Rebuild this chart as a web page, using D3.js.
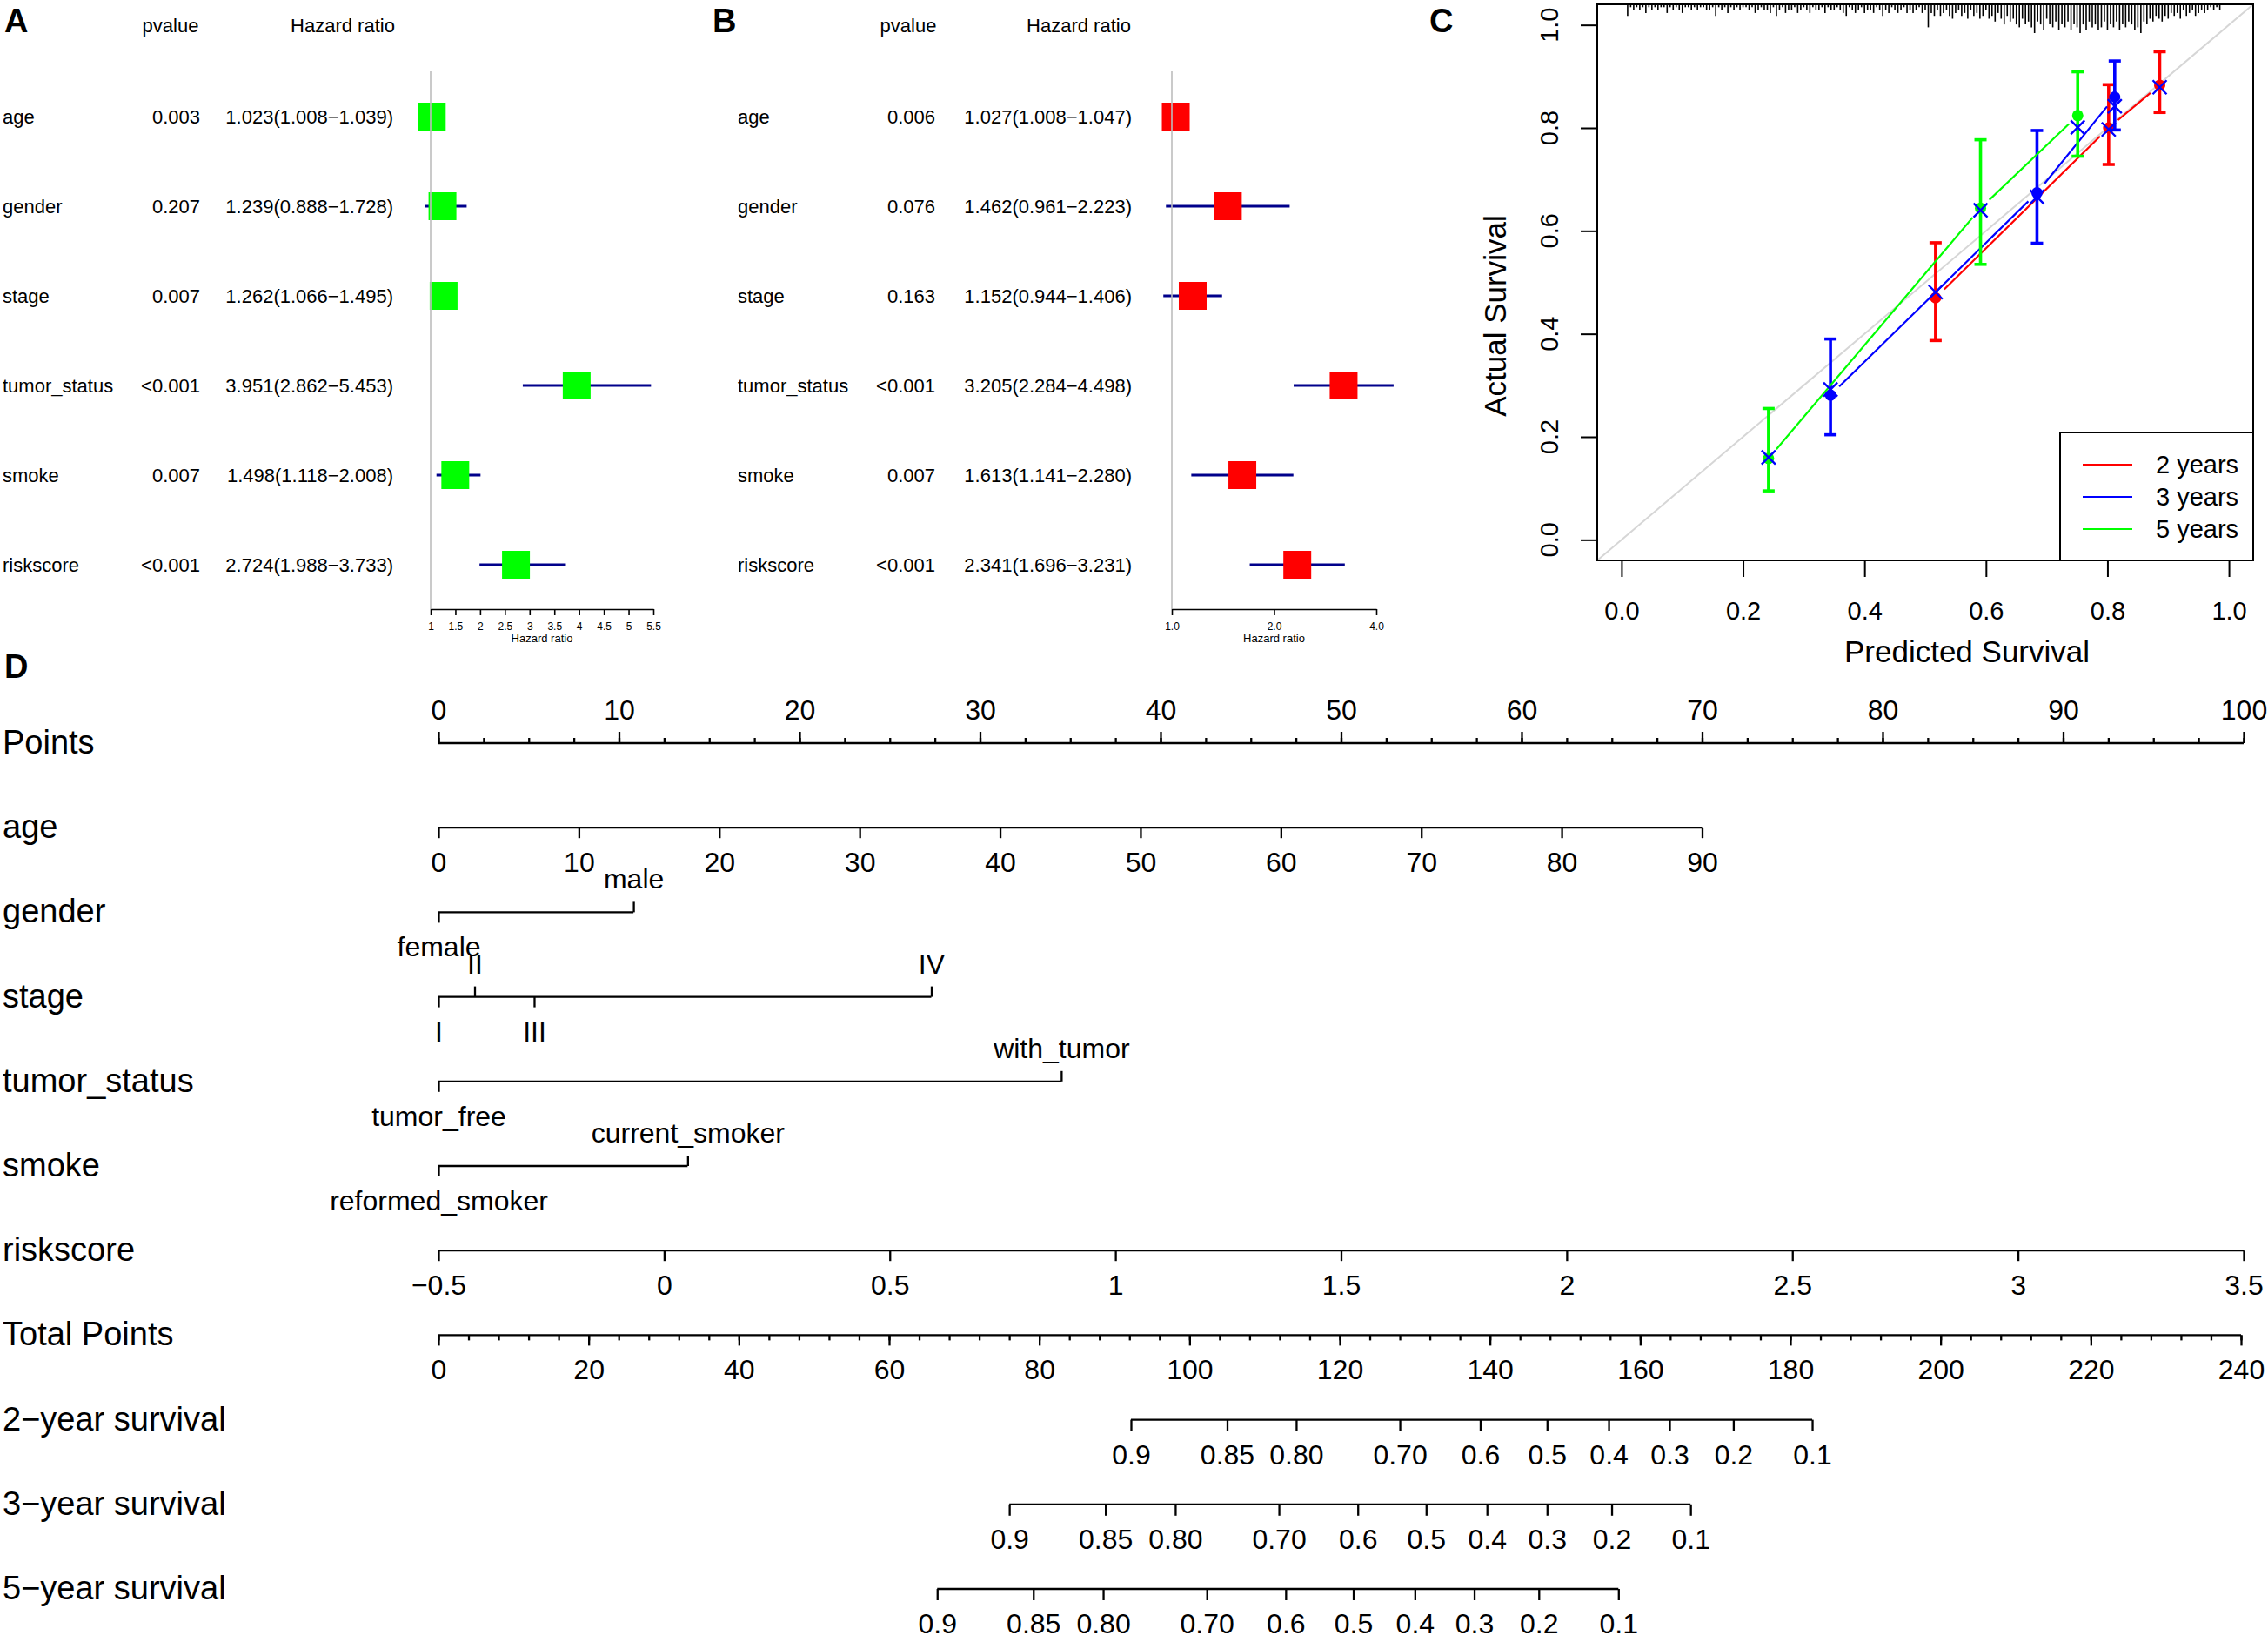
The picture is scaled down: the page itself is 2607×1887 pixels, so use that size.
<!DOCTYPE html>
<html lang="en">
<head>
<meta charset="UTF-8">
<title>Cox regression, calibration and nomogram</title>
<script src="https://d3js.org/d3.v7.min.js"></script>
<style>
  body { margin: 0; background: #fff; }
  svg { display: block; font-family: "Liberation Sans", Arial, Helvetica, sans-serif; }
</style>
</head>
<body>
<div id="chart"></div>
<script>
// ---------- data ----------
const coxVars = ["age", "gender", "stage", "tumor_status", "smoke", "riskscore"];

// panel A
const uniP = ["0.003", "0.207", "0.007", "<0.001", "0.007", "<0.001"];
const uniHR = [1.023, 1.239, 1.262, 3.951, 1.498, 2.724];
const uniLow = [1.008, 0.888, 1.066, 2.862, 1.118, 1.988];
const uniHigh = [1.039, 1.728, 1.495, 5.453, 2.008, 3.733];
const uniTicks = [1, 1.5, 2, 2.5, 3, 3.5, 4, 4.5, 5, 5.5];

// panel B
const multiP = ["0.006", "0.076", "0.163", "<0.001", "0.007", "<0.001"];
const multiHR = [1.027, 1.462, 1.152, 3.205, 1.613, 2.341];
const multiLow = [1.008, 0.961, 0.944, 2.284, 1.141, 1.696];
const multiHigh = [1.047, 2.223, 1.406, 4.498, 2.280, 3.231];
const multiTicks = [1, 2, 4];

// panel C
const calTicks = [0, 0.2, 0.4, 0.6, 0.8, 1.0];
const calSeries = ["2 years", "3 years", "5 years"];
const cal2Pred = [0.517, 0.802, 0.886];
const cal2Obs = [0.470, 0.800, 0.883];
const cal2Lo = [0.387, 0.729, 0.830];
const cal2Hi = [0.577, 0.884, 0.948];
const cal2Corr = [0.481, 0.797, 0.879];
const cal3Pred = [0.344, 0.684, 0.812];
const cal3Obs = [0.281, 0.674, 0.860];
const cal3Lo = [0.204, 0.576, 0.796];
const cal3Hi = [0.390, 0.795, 0.930];
const cal3Corr = [0.292, 0.666, 0.842];
const cal5Pred = [0.242, 0.591, 0.751];
const cal5Obs = [0.158, 0.644, 0.824];
const cal5Lo = [0.095, 0.535, 0.745];
const cal5Hi = [0.255, 0.777, 0.909];
const cal5Corr = [0.160, 0.640, 0.801];
// distribution of predicted survival (relative counts, bins of 0.005 from 0.010)
const rugStart = 0.010, rugStep = 0.005;
const rugCounts = [
  4,1,2,1,2,1,3,1,2,1, 2,1,1,3,1,2,1,2,3,1, 1,2,1,2,1,1,2,2,1,4, 1,2,1,3,1,2,1,2,1,1,
  2,1,3,2,1,2,2,3,1,4, 2,1,3,2,2,1,3,2,1,2, 3,1,2,2,1,3,1,2,2,1, 2,3,4,1,2,3,2,1,3,2,
  2,3,1,2,4,2,3,1,2,3, 2,1,3,2,3,2,1,3,2,8, 3,4,2,4,3,2,4,5,3,2, 4,3,5,2,4,3,5,4,2,5,
  4,6,3,5,7,4,6,5,7,8, 5,7,6,8,10,6,7,9,5,7, 8,6,9,7,8,6,9,7,8,10, 7,9,6,8,7,9,8,6,9,7,
  8,6,9,7,8,6,7,9,8,10, 6,7,5,6,4,5,6,4,5,3, 4,3,5,2,4,3,2,4,3,2, 3,2,1,2,1,2
];

// panel D
const nomoRows = ["Points", "age", "gender", "stage", "tumor_status", "smoke", "riskscore",
  "Total Points", "2\u2212year survival", "3\u2212year survival", "5\u2212year survival"];
const pointsTicks = [0, 10, 20, 30, 40, 50, 60, 70, 80, 90, 100];
const ageTicks = [0, 10, 20, 30, 40, 50, 60, 70, 80, 90];
const agePointsAtMax = 70;
const genderLevels = ["female", "male"];
const genderPoints = [0, 10.8];
const stageLevels = ["I", "II", "III", "IV"];
const stagePoints = [0, 2.0, 5.3, 27.3];
const tumorLevels = ["tumor_free", "with_tumor"];
const tumorPoints = [0, 34.5];
const smokeLevels = ["reformed_smoker", "current_smoker"];
const smokePoints = [0, 13.8];
const riskTicks = [-0.5, 0, 0.5, 1, 1.5, 2, 2.5, 3, 3.5];
const totalTicks = [0, 20, 40, 60, 80, 100, 120, 140, 160, 180, 200, 220, 240];
const survLabels = ["0.9", "0.85", "0.80", "0.70", "0.6", "0.5", "0.4", "0.3", "0.2", "0.1"];
const surv2Points = [92.2, 105.0, 114.2, 128.0, 138.7, 147.6, 155.8, 163.9, 172.4, 182.9];
const surv3Points = [76.0, 88.8, 98.1, 111.9, 122.4, 131.5, 139.6, 147.6, 156.2, 166.7];
const surv5Points = [66.4, 79.2, 88.5, 102.3, 112.8, 121.8, 130.0, 137.9, 146.5, 157.1];

// ---------- drawing ----------
const svg = d3.select("#chart").append("svg")
  .attr("width", 2607).attr("height", 1887);

function panelLetter(letter, x, y) {
  svg.append("text").attr("x", x).attr("y", y)
    .attr("font-size", 38).attr("font-weight", "bold").text(letter);
}

const fmt3 = d3.format(".3f");

function drawForest(o) {
  const g = svg.append("g");
  const y = d3.scalePoint().domain(coxVars).range([134, 649]);

  g.append("text").attr("x", o.pHead).attr("y", 37).attr("text-anchor", "middle")
    .attr("font-size", 22).text("pvalue");
  g.append("text").attr("x", o.hrHead).attr("y", 37).attr("text-anchor", "middle")
    .attr("font-size", 22).text("Hazard ratio");

  const rows = g.selectAll(".row").data(coxVars).enter().append("g")
    .attr("transform", d => `translate(0,${y(d)})`).attr("font-size", 22);
  rows.append("text").attr("x", o.labelX).attr("y", 8).text(d => d);
  rows.append("text").attr("x", o.pX).attr("y", 8).attr("text-anchor", "end")
    .text((d, i) => o.p[i]);
  rows.append("text").attr("x", o.hrX).attr("y", 8).attr("text-anchor", "end")
    .text((d, i) => `${fmt3(o.hr[i])}(${fmt3(o.low[i])}\u2212${fmt3(o.high[i])})`);

  const x = o.x;
  g.append("line").attr("x1", x(1)).attr("x2", x(1)).attr("y1", 82).attr("y2", 700)
    .attr("stroke", "#bdbdbd").attr("stroke-width", 1.6);

  rows.append("line")
    .attr("x1", (d, i) => x(o.low[i])).attr("x2", (d, i) => x(o.high[i]))
    .attr("stroke", "#00008b").attr("stroke-width", 3);
  rows.append("rect")
    .attr("x", (d, i) => x(o.hr[i]) - 16).attr("y", -16)
    .attr("width", 32).attr("height", 32).attr("fill", o.color);

  const ax = g.append("g").attr("transform", "translate(0,700)")
    .call(d3.axisBottom(x).tickValues(o.ticks).tickFormat(o.format).tickSize(7).tickSizeOuter(0));
  ax.attr("font-size", 12).attr("font-family", null);
  ax.select(".domain").attr("stroke-width", 1.6);
  ax.selectAll("line").attr("stroke-width", 1.6);
  ax.selectAll("text").attr("y", 24).attr("dy", null);
  g.append("text").attr("x", (x.range()[0] + x.range()[1]) / 2).attr("y", 738)
    .attr("text-anchor", "middle").attr("font-size", 13).text("Hazard ratio");
}

panelLetter("A", 5, 37);
drawForest({
  p: uniP, hr: uniHR, low: uniLow, high: uniHigh, ticks: uniTicks, format: d => String(d),
  x: d3.scaleLinear().domain([1, 5.5]).range([495, 751]),
  labelX: 3, pX: 230, hrX: 452, pHead: 196, hrHead: 394, color: "#00ff00"
});

panelLetter("B", 819, 37);
drawForest({
  p: multiP, hr: multiHR, low: multiLow, high: multiHigh, ticks: multiTicks, format: d3.format(".1f"),
  x: d3.scaleLog().base(2).domain([1, 4]).range([1347, 1582]),
  labelX: 848, pX: 1075, hrX: 1301, pHead: 1044, hrHead: 1240, color: "#ff0000"
});

// ---------- panel C: calibration ----------
panelLetter("C", 1643, 37);
const cal = svg.append("g");
const xC = d3.scaleLinear().domain([-0.04, 1.04]).range([1836, 2590]);
const yC = d3.scaleLinear().domain([-0.04, 1.04]).range([644, 5]);

cal.append("line")
  .attr("x1", xC(-0.04)).attr("y1", yC(-0.04)).attr("x2", xC(1.04)).attr("y2", yC(1.04))
  .attr("stroke", "#d6d6d6").attr("stroke-width", 2);

const rugH = d3.scaleLinear().domain([0, 10]).range([0, 33]);
cal.append("g").selectAll("line").data(rugCounts).enter().append("line")
  .attr("x1", (d, i) => xC(rugStart + i * rugStep)).attr("x2", (d, i) => xC(rugStart + i * rugStep))
  .attr("y1", yC(1.04)).attr("y2", d => yC(1.04) + rugH(d))
  .attr("stroke", "#000").attr("stroke-width", 1.6);

const calColors = d3.scaleOrdinal().domain(calSeries).range(["#ff0000", "#0000ff", "#00ff00"]);
const calData = [
  { name: "2 years", pred: cal2Pred, obs: cal2Obs, lo: cal2Lo, hi: cal2Hi, corr: cal2Corr },
  { name: "3 years", pred: cal3Pred, obs: cal3Obs, lo: cal3Lo, hi: cal3Hi, corr: cal3Corr },
  { name: "5 years", pred: cal5Pred, obs: cal5Obs, lo: cal5Lo, hi: cal5Hi, corr: cal5Corr }
];

const gap = 14;
calData.forEach(s => {
  const col = calColors(s.name);
  // type="b" style: segments stop short of the points
  for (let i = 0; i < s.pred.length - 1; i++) {
    const x1 = xC(s.pred[i]), y1 = yC(s.obs[i]), x2 = xC(s.pred[i + 1]), y2 = yC(s.obs[i + 1]);
    const len = Math.hypot(x2 - x1, y2 - y1), ux = (x2 - x1) / len, uy = (y2 - y1) / len;
    cal.append("line")
      .attr("x1", x1 + ux * gap).attr("y1", y1 + uy * gap)
      .attr("x2", x2 - ux * gap).attr("y2", y2 - uy * gap)
      .attr("stroke", col).attr("stroke-width", 2.2);
  }
  const eb = cal.append("g").attr("stroke", col).attr("stroke-width", 3.6);
  s.pred.forEach((p, i) => {
    eb.append("line").attr("x1", xC(p)).attr("x2", xC(p)).attr("y1", yC(s.lo[i])).attr("y2", yC(s.hi[i]));
    eb.append("line").attr("x1", xC(p) - 7).attr("x2", xC(p) + 7).attr("y1", yC(s.lo[i])).attr("y2", yC(s.lo[i]));
    eb.append("line").attr("x1", xC(p) - 7).attr("x2", xC(p) + 7).attr("y1", yC(s.hi[i])).attr("y2", yC(s.hi[i]));
  });
  cal.append("g").selectAll("circle").data(s.pred).enter().append("circle")
    .attr("cx", d => xC(d)).attr("cy", (d, i) => yC(s.obs[i])).attr("r", 6.5).attr("fill", col);
});

const xMark = cal.append("g").attr("stroke", "#0000ff").attr("stroke-width", 2.4);
calData.forEach(s => {
  s.pred.forEach((p, i) => {
    const cx = xC(p), cy = yC(s.corr[i]);
    xMark.append("path").attr("d", `M${cx - 8},${cy - 8}L${cx + 8},${cy + 8}M${cx - 8},${cy + 8}L${cx + 8},${cy - 8}`);
  });
});

cal.append("rect").attr("x", 1836).attr("y", 5).attr("width", 754).attr("height", 639)
  .attr("fill", "none").attr("stroke", "#000").attr("stroke-width", 2);

const xAx = cal.append("g").attr("transform", "translate(0,644)")
  .call(d3.axisBottom(xC).tickValues(calTicks).tickFormat(d3.format(".1f")).tickSize(19).tickSizeOuter(0));
xAx.select(".domain").remove();
xAx.attr("font-size", 29).attr("font-family", null);
xAx.selectAll("line").attr("stroke-width", 2);
xAx.selectAll("text").attr("y", 68).attr("dy", null);

const yAx = cal.append("g").attr("transform", "translate(1836,0)")
  .call(d3.axisLeft(yC).tickValues(calTicks).tickFormat("").tickSize(19).tickSizeOuter(0));
yAx.select(".domain").remove();
yAx.selectAll("line").attr("stroke-width", 2);
cal.append("g").selectAll("text").data(calTicks).enter().append("text")
  .attr("transform", d => `translate(1791,${yC(d)}) rotate(-90)`)
  .attr("text-anchor", "middle").attr("font-size", 29).text(d3.format(".1f"));

cal.append("text").attr("x", 2261).attr("y", 761).attr("text-anchor", "middle")
  .attr("font-size", 35).text("Predicted Survival");
cal.append("text").attr("transform", "translate(1731,363) rotate(-90)").attr("text-anchor", "middle")
  .attr("font-size", 35).text("Actual Survival");

const leg = cal.append("g");
leg.append("rect").attr("x", 2368).attr("y", 497).attr("width", 222).attr("height", 147)
  .attr("fill", "#fff").attr("stroke", "#000").attr("stroke-width", 2);
const legY = d3.scalePoint().domain(calSeries).range([534, 608]);
calSeries.forEach(n => {
  leg.append("line").attr("x1", 2394).attr("x2", 2451).attr("y1", legY(n)).attr("y2", legY(n))
    .attr("stroke", calColors(n)).attr("stroke-width", 2);
  leg.append("text").attr("x", 2478).attr("y", legY(n) + 10).attr("font-size", 29).text(n);
});

// ---------- panel D: nomogram ----------
panelLetter("D", 5, 779);
const nomo = svg.append("g");
const rowY = d3.scalePoint().domain(nomoRows).range([854, 1826]);
const pointsX = d3.scaleLinear().domain([0, 100]).range([504, 2579]);
const totalX = d3.scaleLinear().domain([0, 240]).range([504, 2576]);
const ageX = d3.scaleLinear().domain([0, 90]).range([pointsX(0), pointsX(agePointsAtMax)]);
const riskX = d3.scaleLinear().domain([-0.5, 3.5]).range([pointsX(0), pointsX(100)]);

nomo.selectAll(".rowlab").data(nomoRows).enter().append("text")
  .attr("x", 3).attr("y", d => rowY(d) + 12).attr("font-size", 38).text(d => d);

function scaleAxis(row, scale, values, labels, side, size) {
  const axis = (side === "top" ? d3.axisTop(scale) : d3.axisBottom(scale))
    .tickValues(values).tickSize(size).tickSizeOuter(0)
    .tickFormat((d, i) => labels ? labels[i] : "");
  const g = nomo.append("g").attr("transform", `translate(0,${rowY(row)})`).call(axis);
  g.select(".domain").remove();
  g.attr("font-size", 32).attr("font-family", null);
  g.selectAll("line").attr("stroke-width", 2.3);
  g.selectAll("text").attr("y", side === "top" ? -27 : 51).attr("dy", null);
  return g;
}

function axisLine(row, x1, x2) {
  nomo.append("line").attr("x1", x1).attr("x2", x2).attr("y1", rowY(row)).attr("y2", rowY(row))
    .attr("stroke", "#000").attr("stroke-width", 2.3);
}

function factorAxis(row, levels, pts) {
  const order = d3.range(levels.length).sort((a, b) => pts[a] - pts[b]);
  const below = order.filter((d, k) => k % 2 === 0);
  const above = order.filter((d, k) => k % 2 === 1);
  scaleAxis(row, pointsX, below.map(i => pts[i]), below.map(i => levels[i]), "bottom", 12);
  scaleAxis(row, pointsX, above.map(i => pts[i]), above.map(i => levels[i]), "top", 12);
  axisLine(row, pointsX(d3.min(pts)), pointsX(d3.max(pts)));
}

const minus = d => d < 0 ? "\u2212" + Math.abs(d) : String(d);

// Points
scaleAxis("Points", pointsX, d3.range(0, 100.01, 2.5), null, "top", 6);
scaleAxis("Points", pointsX, pointsTicks, pointsTicks.map(String), "top", 13);
axisLine("Points", pointsX(0), pointsX(100));

scaleAxis("age", ageX, ageTicks, ageTicks.map(String), "bottom", 12);
axisLine("age", ageX(0), ageX(90));

factorAxis("gender", genderLevels, genderPoints);
factorAxis("stage", stageLevels, stagePoints);
factorAxis("tumor_status", tumorLevels, tumorPoints);
factorAxis("smoke", smokeLevels, smokePoints);

scaleAxis("riskscore", riskX, riskTicks, riskTicks.map(minus), "bottom", 12);
axisLine("riskscore", riskX(-0.5), riskX(3.5));

scaleAxis("Total Points", totalX, d3.range(0, 240.01, 4), null, "bottom", 6);
scaleAxis("Total Points", totalX, totalTicks, totalTicks.map(String), "bottom", 12);
axisLine("Total Points", totalX(0), totalX(240));

[[nomoRows[8], surv2Points], [nomoRows[9], surv3Points], [nomoRows[10], surv5Points]].forEach(([row, pts]) => {
  scaleAxis(row, totalX, pts, survLabels, "bottom", 13);
  axisLine(row, totalX(d3.min(pts)), totalX(d3.max(pts)));
});
</script>
</body>
</html>
